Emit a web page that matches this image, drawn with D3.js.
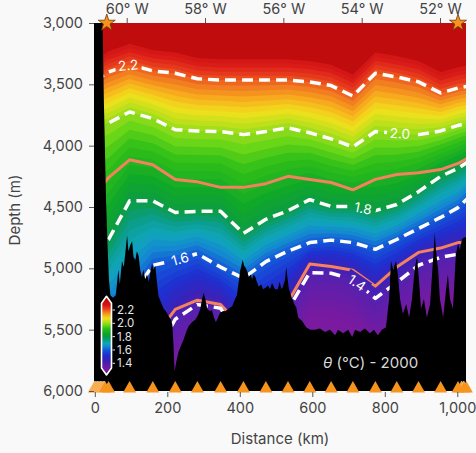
<!DOCTYPE html>
<html>
<head>
<meta charset="utf-8">
<script src="https://cdn.jsdelivr.net/npm/d3@7"></script>
<style>
  html, body { margin: 0; padding: 0; background: #f9f9f9; }
  svg { display: block; font-family: Inter, "Noto Sans", sans-serif; }
</style>
</head>
<body>
<svg id="chart" width="476" height="453"></svg>
<script>
// ---- Section data -------------------------------------------------------
// Along-section positions (km) of the temperature profiles
const profileKm = [-5, 10, 22, 38, 96, 160, 222, 283, 347, 410, 472, 533, 593, 652, 712, 774, 833, 893, 954, 1002, 1030];

// Depth (m) of each isotherm at every profile
const iso23 = [3260, 3260, 3260, 3230, 3170, 3220, 3240, 3285, 3295, 3295, 3295, 3295, 3310, 3340, 3420, 3240, 3270, 3310, 3400, 3360, 3345];
const iso22 = [3430, 3430, 3430, 3400, 3340, 3390, 3410, 3455, 3465, 3465, 3465, 3465, 3480, 3510, 3595, 3410, 3440, 3480, 3570, 3530, 3515];
const iso20 = [3830, 3830, 3830, 3815, 3725, 3780, 3870, 3880, 3885, 3910, 3885, 3855, 3895, 3945, 4010, 3885, 3900, 3910, 3880, 3835, 3815];
const iso18 = [4810, 4810, 4800, 4765, 4450, 4450, 4545, 4535, 4535, 4715, 4600, 4530, 4440, 4495, 4495, 4530, 4480, 4375, 4250, 4185, 4130];
const iso16 = [5415, 5415, 5415, 5375, 5250, 4975, 4935, 4880, 4990, 5080, 4945, 4860, 4790, 4770, 4790, 4845, 4765, 4675, 4585, 4505, 4425];
const iso14 = [6050, 6050, 6050, 6050, 6050, 5740, 5415, 5295, 5325, 5620, 5535, 5335, 5035, 5040, 5090, 5245, 5115, 4975, 4910, 4885, 4885];
const iso13 = [6400, 6400, 6400, 6400, 6400, 6100, 5800, 5650, 5700, 6000, 5900, 5700, 5400, 5400, 5450, 5600, 5480, 5340, 5270, 5250, 5250];

// Reference surfaces drawn as solid orange lines (depth, m)
const orangeUpper = [4320, 4320, 4320, 4260, 4115, 4155, 4275, 4295, 4340, 4340, 4310, 4250, 4275, 4300, 4360, 4275, 4235, 4220, 4195, 4145, 4100];
const orangeLower = [5740, 5740, 5740, 5740, 5740, 5580, 5335, 5260, 5295, 5495, 5415, 5275, 4965, 4985, 5015, 5145, 4990, 4870, 4835, 4790, 4790];

// Sea floor [km, depth m]
const bathymetry = [
  [-10, 2900], [21, 2900], [25, 3630], [31, 4440], [35, 4800], [39, 5090], [43, 5220], [50, 5240],
  [58, 5220], [65, 5010], [69, 5130], [75, 4940], [80, 4990], [85, 4850], [89, 4730], [93, 4860],
  [98, 4810], [103, 4780], [107, 4910], [112, 4930], [116, 4860], [121, 4900], [125, 5010], [130, 5070],
  [134, 5010], [139, 5090], [144, 5050], [149, 5110], [154, 5020], [158, 4960], [162, 5010], [167, 4980],
  [172, 5130], [176, 5230], [183, 5280], [190, 5330], [196, 5350], [204, 5390], [210, 5420], [214, 5460],
  [217, 5620], [220, 5840], [225, 5760], [231, 5680], [238, 5630], [245, 5580], [252, 5520], [259, 5470],
  [268, 5440], [277, 5420], [285, 5380], [291, 5330], [296, 5250], [300, 5200], [305, 5250], [310, 5330],
  [318, 5350], [323, 5340], [329, 5400], [334, 5440], [340, 5400], [346, 5360], [354, 5350], [360, 5350],
  [369, 5330], [379, 5310], [387, 5250], [392, 5220], [396, 5130], [401, 5020], [405, 4970], [408, 4930],
  [412, 4980], [415, 4990], [420, 5020], [425, 5070], [430, 5050], [434, 5090], [438, 5050], [443, 5070],
  [447, 5110], [452, 5150], [459, 5130], [464, 5170], [470, 5160], [478, 5140], [483, 5170], [489, 5120],
  [497, 5170], [505, 5170], [510, 5110], [515, 5170], [519, 5150], [525, 5090], [528, 4990], [532, 5090],
  [535, 5160], [542, 5230], [550, 5290], [556, 5320], [561, 5400], [572, 5430], [583, 5480], [594, 5500],
  [607, 5500], [621, 5490], [635, 5520], [649, 5500], [663, 5545], [671, 5500], [685, 5530], [699, 5500],
  [710, 5560], [718, 5500], [732, 5520], [745, 5490], [759, 5530], [770, 5500], [781, 5545], [792, 5500],
  [803, 5480], [812, 5250], [817, 4940], [823, 5010], [831, 4940], [836, 5050], [842, 5250], [850, 5370],
  [859, 5290], [867, 5400], [875, 5250], [883, 4990], [889, 4910], [894, 5090], [900, 5330], [908, 5250],
  [916, 5400], [925, 5290], [933, 4930], [938, 4710], [941, 4850], [947, 5010], [952, 5250], [961, 5400],
  [969, 5170], [974, 5050], [980, 5250], [988, 5330], [996, 4890], [1002, 4800], [1007, 4850], [1013, 4760],
  [1018, 4750], [1040, 4730]
];

// CTD stations (km) and the two end-point markers
const stationKm = [38, 96, 160, 222, 283, 347, 410, 472, 533, 593, 652, 712, 774, 833, 893, 954, 1002, 1025];
const shelfStationKm = [-1, 3, 7, 11, 15, 19, 23, 27, 1012, 1018];
const starKm = [33, 1002];

// Axis ticks and labels
const depthTicks = [3000, 3500, 4000, 4500, 5000, 5500, 6000];
const distanceTicks = [0, 200, 400, 600, 800, 1000];
const lonTicks = [-60, -58, -56, -54, -52];
const colorbarTicks = [2.2, 2.0, 1.8, 1.6, 1.4];

// Isotherm labels: level text and position along the section (km)
const contourLabelText = ["2.2", "2.0", "1.8", "1.6", "1.4"];
const contourLabelKm = [92, 842, 740, 235, 723];

// Colour map for potential temperature (°C)
const colourValues = [1.30, 1.375, 1.45, 1.525, 1.60, 1.65, 1.70, 1.75, 1.80, 1.85, 1.925, 1.975, 2.025, 2.075, 2.125, 2.175, 2.225, 2.275, 2.35];
const colourHex = ["#7a1aa0", "#5e1fab", "#3a22b8", "#1e30d0", "#1458d8", "#1488d0", "#10a6bc", "#0c9e8c", "#0c9c44", "#10a828",
                   "#30c018", "#70d818", "#b8e01a", "#f0e01c", "#f8b01e", "#f07820", "#e83c1c", "#d81818", "#c00c0c"];

// ---- Drawing ------------------------------------------------------------
const W = 476, H = 453;
const plot = { left: 94, right: 466, top: 23, bottom: 391 };

const svg = d3.select("#chart");
const x = d3.scaleLinear().domain([0, 1000]).range([94.8, 457.3]);
const y = d3.scaleLinear().domain([3000, 6000]).range([plot.top, plot.bottom]);
const lon = d3.scaleLinear().domain([-60, -52]).range([126.7, 440]);
const colour = d3.scaleLinear().domain(colourValues).range(colourHex).clamp(true);

const defs = svg.append("defs");
defs.append("clipPath").attr("id", "plotClip")
  .append("rect")
  .attr("x", plot.left).attr("y", plot.top)
  .attr("width", plot.right - plot.left).attr("height", plot.bottom - plot.top);

// Filled temperature field: bands between isotherms, refined in 0.02 °C steps
const levels = [
  { v: 2.3, d: iso23 }, { v: 2.2, d: iso22 }, { v: 2.0, d: iso20 },
  { v: 1.8, d: iso18 }, { v: 1.6, d: iso16 }, { v: 1.4, d: iso14 }, { v: 1.3, d: iso13 }
];
const fieldG = svg.append("g").attr("clip-path", "url(#plotClip)");
fieldG.append("rect")
  .attr("x", plot.left).attr("y", plot.top)
  .attr("width", plot.right - plot.left).attr("height", plot.bottom - plot.top)
  .attr("fill", colour(2.35));

const below = d3.area()
  .x(d => x(d.km))
  .y0(y(6600))
  .y1(d => y(d.z));

for (let i = 0; i < levels.length - 1; i++) {
  const a = levels[i], b = levels[i + 1];
  const n = Math.round((a.v - b.v) / 0.02);
  for (let k = 0; k < n; k++) {
    const t = k / n;
    const pts = profileKm.map((km, j) => ({ km, z: a.d[j] + (b.d[j] - a.d[j]) * t }));
    const v = a.v - (a.v - b.v) * (k + 0.5) / n;
    fieldG.append("path").attr("d", below(pts)).attr("fill", colour(v));
  }
}
fieldG.append("path")
  .attr("d", below(profileKm.map((km, j) => ({ km, z: iso13[j] }))))
  .attr("fill", colour(1.27));

// Isotherm depth at any km along the section
function depthAt(arr, km) {
  const i = Math.max(1, Math.min(profileKm.length - 1, d3.bisectRight(profileKm, km)));
  const k0 = profileKm[i - 1], k1 = profileKm[i];
  const t = (km - k0) / (k1 - k0);
  return arr[i - 1] + (arr[i] - arr[i - 1]) * t;
}

const labelSource = { "2.2": iso22, "2.0": iso20, "1.8": iso18, "1.6": iso16, "1.4": iso14 };
const labels = contourLabelText.map((txt, i) => {
  const km = contourLabelKm[i];
  const arr = labelSource[txt];
  const px = x(km), py = y(depthAt(arr, km));
  const ax = x(km - 25), ay = y(depthAt(arr, km - 25));
  const bx = x(km + 25), by = y(depthAt(arr, km + 25));
  const angle = Math.atan2(by - ay, bx - ax) * 180 / Math.PI;
  return { txt, px, py, angle };
});

// Gaps in the contour lines behind the labels
const mask = defs.append("mask").attr("id", "labelGaps")
  .attr("maskUnits", "userSpaceOnUse")
  .attr("x", 0).attr("y", 0).attr("width", W).attr("height", H);
mask.append("rect").attr("width", W).attr("height", H).attr("fill", "white");
mask.selectAll("rect.gap").data(labels).join("rect")
  .attr("class", "gap")
  .attr("x", -13).attr("y", -8).attr("width", 26).attr("height", 16)
  .attr("fill", "black")
  .attr("transform", d => `translate(${d.px},${d.py}) rotate(${d.angle})`);

const lineGen = d3.line()
  .x((d, j) => x(profileKm[j]))
  .y(d => y(d));

const linesClip = svg.append("g").attr("clip-path", "url(#plotClip)");
const linesG = linesClip.append("g").attr("mask", "url(#labelGaps)");

[orangeUpper, orangeLower].forEach(arr => {
  linesG.append("path")
    .attr("d", lineGen(arr))
    .attr("fill", "none")
    .attr("stroke", "#f4825e")
    .attr("stroke-width", 3)
    .attr("stroke-linejoin", "round");
});
[iso22, iso20, iso18, iso16, iso14].forEach(arr => {
  linesG.append("path")
    .attr("d", lineGen(arr))
    .attr("fill", "none")
    .attr("stroke", "#ffffff")
    .attr("stroke-width", 3.5)
    .attr("stroke-dasharray", "11,6")
    .attr("stroke-linejoin", "round");
});

linesClip.selectAll("text.clabel").data(labels).join("text")
  .attr("class", "clabel")
  .attr("transform", d => `translate(${d.px},${d.py}) rotate(${d.angle})`)
  .attr("text-anchor", "middle")
  .attr("dy", "0.36em")
  .attr("font-size", 13.5)
  .attr("fill", "#ffffff")
  .text(d => d.txt);

// Sea floor
svg.append("g").attr("clip-path", "url(#plotClip)")
  .append("path")
  .attr("d", d3.area()
    .x(d => x(d[0]))
    .y0(y(6600))
    .y1(d => y(d[1]))(bathymetry))
  .attr("fill", "#000");

// Colour bar with extended ends
const cbY = d3.scaleLinear().domain([1.4, 2.2]).range([363.3, 310]);
const cbX0 = 101.5, cbX1 = 111.5, cbMid = (cbX0 + cbX1) / 2;
const cbTop = cbY(2.3), cbBot = cbY(1.33);
const cbShape = `M${cbX0},${cbTop} L${cbMid},${cbTop - 7} L${cbX1},${cbTop} L${cbX1},${cbBot} L${cbMid},${cbBot + 7} L${cbX0},${cbBot} Z`;
defs.append("clipPath").attr("id", "cbClip").append("path").attr("d", cbShape);
const cbG = svg.append("g");
const cbFill = cbG.append("g").attr("clip-path", "url(#cbClip)");
const cbSteps = d3.range(1.2, 2.46, 0.005);
cbFill.selectAll("rect").data(cbSteps).join("rect")
  .attr("x", cbX0 - 1).attr("width", cbX1 - cbX0 + 2)
  .attr("y", d => cbY(d + 0.005) - 0.3)
  .attr("height", d => cbY(d) - cbY(d + 0.005) + 0.6)
  .attr("fill", d => colour(d));
cbG.append("path").attr("d", cbShape)
  .attr("fill", "none").attr("stroke", "#ffffff").attr("stroke-width", 1.6)
  .attr("stroke-linejoin", "round");
cbG.selectAll("line.cbtick").data(colorbarTicks).join("line")
  .attr("class", "cbtick")
  .attr("x1", cbX1 + 1).attr("x2", cbX1 + 3.5)
  .attr("y1", d => cbY(d)).attr("y2", d => cbY(d))
  .attr("stroke", "#e6e6e6").attr("stroke-width", 1);
cbG.selectAll("text.cblabel").data(colorbarTicks).join("text")
  .attr("class", "cblabel")
  .attr("x", cbX1 + 5.5).attr("y", d => cbY(d))
  .attr("dy", "0.36em")
  .attr("font-size", 11.5)
  .attr("fill", "#e6e6e6")
  .text(d => d3.format(".1f")(d));

// Panel title
const title = svg.append("text")
  .attr("x", 323).attr("y", 368)
  .attr("font-size", 15)
  .attr("fill", "#d9d9d9");
title.append("tspan").attr("font-style", "italic").text("θ");
title.append("tspan").text(" (°C) - 2000");

// Station markers along the bottom
const tri = km => {
  const cx = x(km);
  return `M${cx - 6.5},${plot.bottom + 1.5} L${cx + 6.5},${plot.bottom + 1.5} L${cx},${plot.bottom - 10} Z`;
};
svg.append("g").selectAll("path").data(shelfStationKm).join("path")
  .attr("d", tri)
  .attr("fill", "#f7941d")
  .attr("stroke", "#fcd7a4")
  .attr("stroke-width", 0.6);
svg.append("g").selectAll("path").data(stationKm).join("path")
  .attr("d", tri)
  .attr("fill", "#f7941d");

// End-point stars on the top edge
svg.append("g").selectAll("path").data(starKm).join("path")
  .attr("d", d3.symbol(d3.symbolStar).size(90))
  .attr("transform", d => `translate(${x(d)},${plot.top})`)
  .attr("fill", "#f7941d")
  .attr("stroke", "#6b3a0a")
  .attr("stroke-width", 0.8);

// Axes
function styleAxis(g) {
  g.select(".domain").remove();
  g.selectAll(".tick line").attr("stroke", "#555");
  g.selectAll(".tick text").attr("fill", "#444").attr("font-size", 14.5)
    .attr("font-family", "Inter, 'Noto Sans', sans-serif");
}
svg.append("g")
  .attr("transform", `translate(${plot.left},0)`)
  .call(d3.axisLeft(y).tickValues(depthTicks).tickFormat(d3.format(",")).tickSize(5).tickPadding(6))
  .call(styleAxis);
svg.append("g")
  .attr("transform", `translate(0,${plot.bottom + 1})`)
  .call(d3.axisBottom(x).tickValues(distanceTicks).tickFormat(d3.format(",")).tickSize(5).tickPadding(6))
  .call(styleAxis);
svg.append("g")
  .attr("transform", `translate(0,${plot.top})`)
  .call(d3.axisTop(lon).tickValues(lonTicks).tickFormat(d => `${Math.abs(d)}° W`).tickSize(5).tickPadding(4))
  .call(styleAxis);

svg.append("text")
  .attr("transform", "translate(15,210) rotate(-90)")
  .attr("text-anchor", "middle")
  .attr("dy", "0.36em")
  .attr("font-size", 15)
  .attr("fill", "#444")
  .text("Depth (m)");
svg.append("text")
  .attr("x", 280).attr("y", 444)
  .attr("text-anchor", "middle")
  .attr("font-size", 15)
  .attr("fill", "#444")
  .text("Distance (km)");
</script>
</body>
</html>
